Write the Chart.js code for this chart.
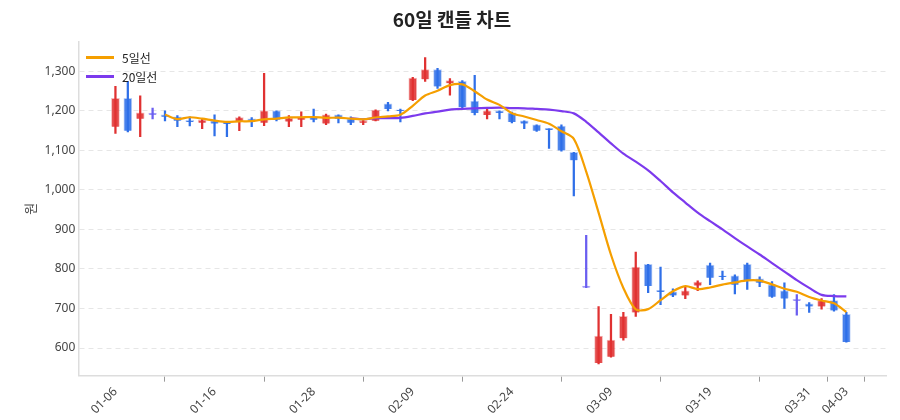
<!DOCTYPE html>
<html>
<head>
<meta charset="utf-8">
<script src="https://cdn.jsdelivr.net/npm/chart.js@4"></script>
<style>
  body { margin: 0; background: #fff; font-family: 'Noto Sans CJK KR', 'Noto Sans', sans-serif; }
  #wrap { position: relative; width: 900px; height: 420px; }
  #legend { position: absolute; left: 86px; top: 48px; font-size: 12px; color: #222; }
  #legend div { display: flex; align-items: center; height: 19px; }
  #legend span.sw { display: inline-block; width: 28px; height: 3px; margin-right: 8px; }
</style>
</head>
<body>
<div id="wrap">
  <canvas id="c" width="900" height="420"></canvas>
  <div id="legend">
    <div><span class="sw" style="background:#f59f00"></span>5일선</div>
    <div><span class="sw" style="background:#7c3aed"></span>20일선</div>
  </div>
</div>
<script>
const dates = ['01-06','01-07','01-08','01-09','01-12','01-13','01-14','01-15','01-16','01-19',
  '01-20','01-21','01-22','01-23','01-26','01-27','01-28','01-29','01-30','02-02',
  '02-03','02-04','02-05','02-06','02-09','02-10','02-11','02-12','02-13','02-19',
  '02-20','02-23','02-24','02-25','02-26','02-27','03-03','03-04','03-05','03-06',
  '03-09','03-10','03-11','03-12','03-13','03-16','03-17','03-18','03-19','03-20',
  '03-23','03-24','03-25','03-26','03-27','03-30','03-31','04-01','04-02','04-03'];
const opens  = [1160,1232,1180,1193,1190,1185,1175,1170,1175,1170,1172,1180,1170,1200,1173,1178,1185,1168,1190,1180,
  1170,1175,1218,1203,1228,1280,1305,1270,1275,1225,1190,1200,1195,1175,1165,1155,1162,1095,755,562,
  578,625,690,812,745,742,733,758,810,783,783,812,775,760,745,722,712,705,720,685];
const closes = [1232,1150,1195,1192,1185,1175,1173,1177,1168,1168,1183,1175,1200,1178,1182,1185,1178,1190,1180,1170,
  1175,1202,1205,1200,1283,1305,1262,1277,1210,1195,1200,1195,1172,1168,1150,1153,1100,1075,755,630,
  620,680,805,757,743,733,745,767,778,780,760,770,765,730,725,721,705,720,695,615];
const highs  = [1262,1275,1238,1207,1200,1188,1185,1180,1190,1172,1185,1183,1295,1200,1188,1198,1205,1192,1190,1185,
  1178,1203,1222,1205,1285,1335,1308,1282,1277,1290,1205,1200,1197,1175,1165,1155,1165,1095,885,705,
  685,690,843,812,805,750,755,770,815,795,785,815,780,768,765,735,715,725,735,690];
const lows   = [1143,1147,1135,1180,1175,1160,1162,1155,1137,1135,1150,1160,1163,1175,1160,1160,1172,1165,1170,1165,
  1165,1175,1200,1172,1226,1275,1257,1240,1205,1190,1180,1180,1170,1155,1148,1105,1098,985,753,560,
  577,620,680,740,710,730,725,745,760,773,737,748,755,728,700,683,690,698,693,615];
const yTicks = [600,700,800,900,1000,1100,1200,1300];
const xTickIdx = [0,8,16,24,32,40,48,56,59];

function movingAvg(n) {
  return closes.map((c, i) => {
    if (i < n - 1) return null;
    let s = 0;
    for (let k = i - n + 1; k <= i; k++) s += closes[k];
    return { x: i, y: s / n };
  }).filter(Boolean);
}

const RED = '#e03131', BLUE = '#2f6fe8', FLAT = '#6a5ef0';
const col = i => closes[i] > opens[i] ? RED : closes[i] < opens[i] ? BLUE : FLAT;
const colors = dates.map((d, i) => Math.abs(closes[i] - opens[i]) <= 1 ? FLAT : col(i));

const bodies = dates.map((d, i) => {
  let a = opens[i], b = closes[i];
  if (Math.abs(a - b) < 3) { const m = (a + b) / 2; a = m - 2; b = m + 2; }
  return { x: i, y: [a, b] };
});
const wicks = dates.map((d, i) => ({ x: i, y: [lows[i], highs[i]] }));

new Chart(document.getElementById('c'), {
  data: {
    datasets: [
      { type: 'line', label: '5일선', data: movingAvg(5), borderColor: '#f59f00', borderWidth: 2.2,
        pointRadius: 0, tension: 0.3, order: 0 },
      { type: 'line', label: '20일선', data: movingAvg(20), borderColor: '#7c3aed', borderWidth: 2.2,
        pointRadius: 0, tension: 0.3, order: 0 },
      { type: 'bar', data: bodies, backgroundColor: colors.map(c => c + 'e0'), borderColor: colors.map(c => c + '55'),
        borderWidth: 1, barThickness: 8, grouped: false, order: 1 },
      { type: 'bar', data: wicks, backgroundColor: colors, barThickness: 1.6, grouped: false, order: 2 }
    ]
  },
  options: {
    responsive: false,
    animation: false,
    layout: { padding: { left: 18, right: 14, top: 0, bottom: 0 } },
    plugins: {
      legend: { display: false },
      tooltip: { enabled: false },
      title: { display: true, text: '60일 캔들 차트', color: '#222',
        font: { family: "'Noto Sans CJK KR'", size: 19, weight: 'bold' }, padding: { top: 8, bottom: 11 } }
    },
    scales: {
      x: {
        type: 'linear', min: -3, max: 62.2, offset: false,
        afterBuildTicks: ax => { ax.ticks = xTickIdx.map(v => ({ value: v })); },
        ticks: { callback: v => dates[v], maxRotation: 45, minRotation: 45, color: '#444',
          font: { family: "'Noto Sans'", size: 12 } },
        grid: { drawOnChartArea: false, drawTicks: true, tickLength: 6, color: '#999' },
        border: { color: '#ddd', width: 1.5 }
      },
      y: {
        min: 530, max: 1375,
        afterBuildTicks: ax => { ax.ticks = yTicks.map(v => ({ value: v })); },
        ticks: { callback: v => v.toLocaleString('en-US'), color: '#444', font: { family: "'Noto Sans'", size: 12 } },
        grid: { color: '#e6e6e6', drawTicks: false },
        border: { dash: [5, 4], color: '#ddd', width: 1.5 },
        title: { display: true, text: '원', color: '#444', font: { family: "'Noto Sans CJK KR'", size: 13 } }
      }
    }
  }
});
</script>
</body>
</html>
